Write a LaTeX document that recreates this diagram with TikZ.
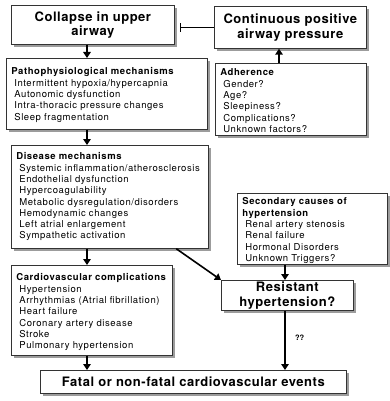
\documentclass[tikz,border=0pt]{standalone}
\usepackage{fontspec}
\setmainfont{TeX Gyre Heros}
\newfontfamily\listfont[LetterSpace=6]{TeX Gyre Heros}
\newfontfamily\titlefont[LetterSpace=4]{TeX Gyre Heros}
\usetikzlibrary{arrows.meta,shadows}

% Text panel: width, height, first-baseline offset, content
\newcommand{\panel}[4]{\parbox[c][#2pt][t]{#1pt}{\listfont\fontsize{9.5}{11.3}\selectfont\raggedright\leftskip=5pt\rule{0pt}{#3pt}#4}}
\newcommand{\itm}[1]{\\\hspace*{3pt}#1}

\begin{document}
\begin{tikzpicture}[x=1pt,y=-1pt,
  panelbox/.style={draw=black!80, line width=0.7pt, fill=white, inner sep=0pt, anchor=north west,
    drop shadow={shadow xshift=2.5pt, shadow yshift=-2.5pt, fill=black!55, opacity=0.7}},
  titlebox/.style={panelbox, align=center, font=\titlefont\bfseries\fontsize{13}{14.5}\selectfont},
  flow/.style={line width=1.6pt, -{Triangle[width=7.5pt,length=6pt]}},
  qlabel/.style={font=\bfseries\fontsize{7.5}{9}\selectfont}]
\useasboundingbox[fill=white] (0,0) rectangle (389,401);

% boxes
\node[titlebox, minimum width=163pt, minimum height=39pt] (collapse) at (11,5) {Collapse in upper\\airway};
\node[titlebox, minimum width=152pt, minimum height=42pt] (cpap) at (214,6) {Continuous positive\\airway pressure};

\node[panelbox] (patho) at (6,58) {\panel{201}{71}{16.5}{\textbf{Pathophysiological mechanisms}
  \itm{Intermittent hypoxia/hypercapnia}
  \itm{Autonomic dysfunction}
  \itm{Intra-thoracic pressure changes}
  \itm{Sleep fragmentation}}};

\node[panelbox] (adher) at (215,63) {\panel{151}{72}{12.5}{\textbf{Adherence}
  \itm{Gender?}
  \itm{Age?}
  \itm{Sleepiness?}
  \itm{Complications?}
  \itm{Unknown factors?}}};

\node[panelbox] (disease) at (11,145) {\panel{197}{103}{14.5}{\textbf{Disease mechanisms}
  \itm{Systemic inflammation/atherosclerosis}
  \itm{Endothelial dysfunction}
  \itm{Hypercoagulability}
  \itm{Metabolic dysregulation/disorders}
  \itm{Hemodynamic changes}
  \itm{Left atrial enlargement}
  \itm{Sympathetic activation}}};

\node[panelbox] (second) at (237,193) {\panel{150}{71}{11.5}{\textbf{Secondary causes of}\\\textbf{hypertension}
  \itm{Renal artery stenosis}
  \itm{Renal failure}
  \itm{Hormonal Disorders}
  \itm{Unknown Triggers?}}};

\node[titlebox, minimum width=132pt, minimum height=30pt] (resist) at (221,280) {Resistant\\hypertension?};

\node[panelbox] (cardio) at (11,265) {\panel{161}{90}{15.5}{\textbf{Cardiovascular complications}
  \itm{Hypertension}
  \itm{Arrhythmias (Atrial fibrillation)}
  \itm{Heart failure}
  \itm{Coronary artery disease}
  \itm{Stroke}
  \itm{Pulmonary hypertension}}};

\node[titlebox, minimum width=306pt, minimum height=23pt] (fatal) at (40,370) {Fatal or non-fatal cardiovascular events};

% connector columns
\coordinate (ax) at (87,0);
\coordinate (bx) at (279,0);
\coordinate (cx) at (285,0);

\draw[flow] (collapse.south -| ax) -- (patho.north -| ax);
\draw[flow] (patho.south -| ax) -- (disease.north -| ax);
\draw[flow] (disease.south -| ax) -- (cardio.north -| ax);
\draw[flow] (cardio.south -| ax) -- (fatal.north -| ax);
\draw[flow] (adher.north -| bx) -- (cpap.south -| bx);
\draw[flow] (second.south -| cx) -- (resist.north -| cx);
\draw[flow] (resist.south -| cx) -- node[qlabel, right=6pt, pos=0.45] (qq) {??} (fatal.north -| cx);
\draw[flow] (disease.-38) -- (resist.north west);
\draw[line width=1.6pt, -{Bar[width=9pt]}, shorten >=5pt] (cpap.west) -- (collapse.east |- cpap.west);
\end{tikzpicture}
\end{document}
